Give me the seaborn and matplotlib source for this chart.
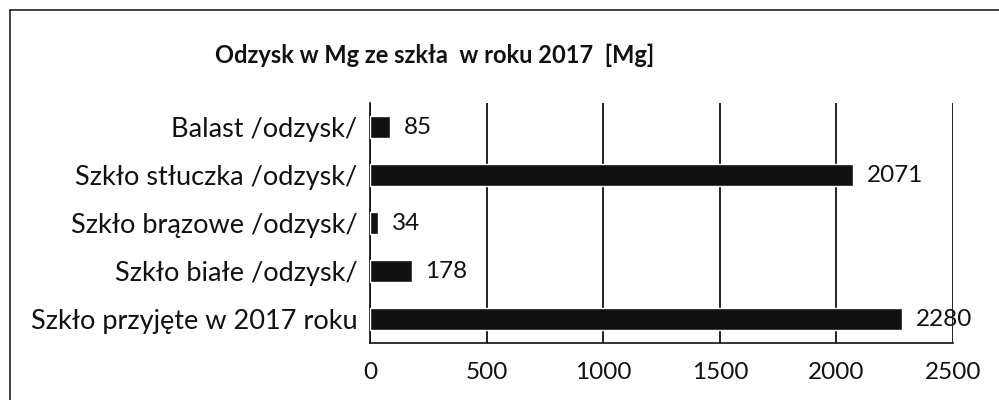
import matplotlib
matplotlib.use("Agg")
import matplotlib.pyplot as plt
import seaborn as sns
import pandas as pd

kategorie = ['Balast /odzysk/', 'Szkło stłuczka /odzysk/', 'Szkło brązowe /odzysk/',
             'Szkło białe /odzysk/', 'Szkło przyjęte w 2017 roku']
wartosci = [85, 2071, 34, 178, 2280]
ticki_x = [0, 500, 1000, 1500, 2000, 2500]

df = pd.DataFrame({'kategoria': kategorie, 'mg': wartosci})

sns.set_style("white")
plt.rcParams['font.family'] = ['Lato', 'DejaVu Sans']

fig = plt.figure(figsize=(9.99, 4), dpi=100)
ax = fig.add_axes([0.3704, 0.1425, 0.5836, 0.6])

f = sns.barplot(data=df, x='mg', y='kategoria', color='#111111', width=0.46,
                saturation=1, ax=ax, zorder=3)

for i, v in enumerate(wartosci):
    ax.text(v + 60, i, str(v), va='center', ha='left', fontsize=17.5, color='#111111')

ax.set_xlim(0, 2500)
ax.set_xticks(ticki_x)
ax.set_xlabel('')
ax.set_ylabel('')
ax.xaxis.grid(True, color='#111111', linewidth=1.3, zorder=0)
ax.yaxis.grid(False)
for s in ['top', 'right']:
    ax.spines[s].set_visible(False)
for s in ['left', 'bottom']:
    ax.spines[s].set_color('#111111')
    ax.spines[s].set_linewidth(1.2)

# ticks kategorii na granicach pasów jak w Excelu
ax.set_yticks([i - 0.5 for i in range(len(kategorie) + 1)], minor=True)
ax.tick_params(axis='y', which='minor', length=5, color='#111111', width=1)
ax.tick_params(axis='y', which='major', length=0, pad=9, labelsize=19.5, labelcolor='#111111')
ax.tick_params(axis='x', which='major', length=6, width=1.3, color='#111111', pad=8,
               labelsize=17.5, labelcolor='#111111')

fig.text(0.435, 0.862, 'Odzysk w Mg ze szkła  w roku 2017  [Mg]', ha='center', va='center',
         fontsize=17, fontweight='bold', color='#111111')

# ramka wykresu (lewa i górna krawędź)
fig.add_artist(plt.Line2D([0.01, 0.01], [0.0, 0.975], color='#222222', linewidth=1.2))
fig.add_artist(plt.Line2D([0.01, 1.0], [0.975, 0.975], color='#222222', linewidth=1.2))

plt.savefig('out.png', dpi=100)
